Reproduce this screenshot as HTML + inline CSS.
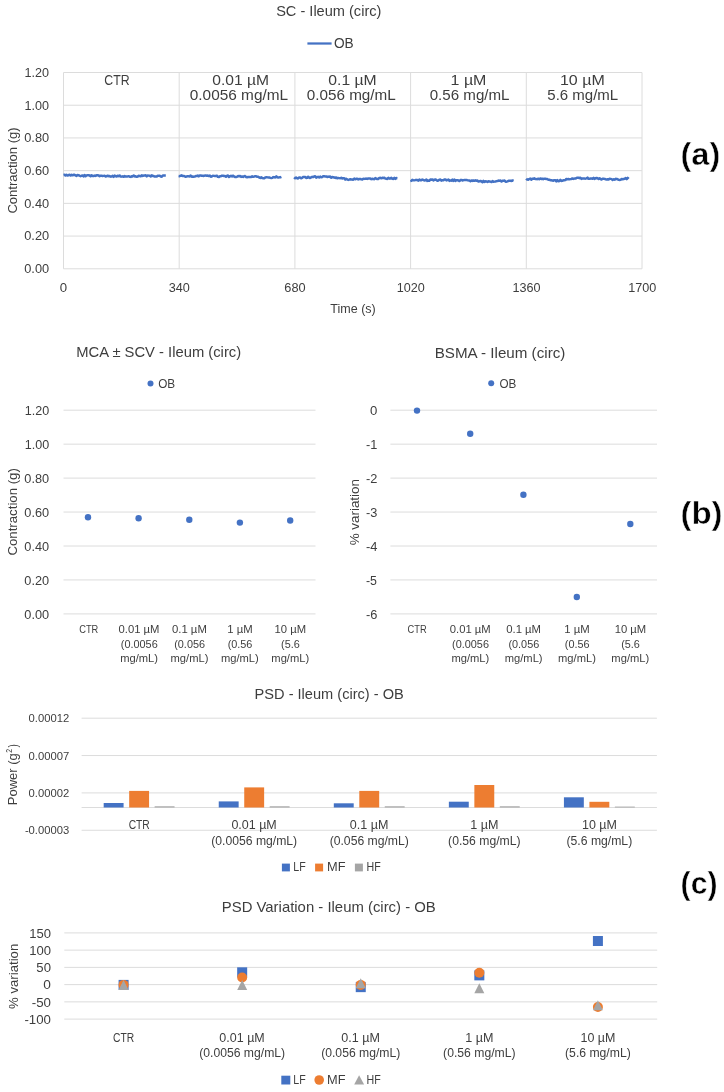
<!DOCTYPE html>
<html><head><meta charset="utf-8"><style>
html,body{margin:0;padding:0;background:#fff;}
svg{display:block;font-family:"Liberation Sans", sans-serif;filter:blur(0.35px);}
</style></head><body>
<svg width="724" height="1092" viewBox="0 0 724 1092">
<rect width="724" height="1092" fill="#fff"/>
<text x="276.14" y="16.1" font-size="15.12" fill="#3e3e3e" textLength="105.27" lengthAdjust="spacingAndGlyphs">SC - Ileum (circ)</text>
<line x1="307.4" y1="43.5" x2="331.6" y2="43.5" stroke="#4472C4" stroke-width="2.25"/>
<text x="333.95" y="48" font-size="14.93" fill="#3e3e3e" textLength="19.77" lengthAdjust="spacingAndGlyphs">OB</text>
<line x1="63.5" y1="72.5" x2="642" y2="72.5" stroke="#DCDCDC" stroke-width="1"/>
<line x1="63.5" y1="105.22" x2="642" y2="105.22" stroke="#DCDCDC" stroke-width="1"/>
<line x1="63.5" y1="137.93" x2="642" y2="137.93" stroke="#DCDCDC" stroke-width="1"/>
<line x1="63.5" y1="170.65" x2="642" y2="170.65" stroke="#DCDCDC" stroke-width="1"/>
<line x1="63.5" y1="203.37" x2="642" y2="203.37" stroke="#DCDCDC" stroke-width="1"/>
<line x1="63.5" y1="236.08" x2="642" y2="236.08" stroke="#DCDCDC" stroke-width="1"/>
<line x1="63.5" y1="268.8" x2="642" y2="268.8" stroke="#DCDCDC" stroke-width="1"/>
<line x1="63.5" y1="72.5" x2="63.5" y2="268.8" stroke="#DCDCDC" stroke-width="1"/>
<line x1="179.2" y1="72.5" x2="179.2" y2="268.8" stroke="#DCDCDC" stroke-width="1"/>
<line x1="294.9" y1="72.5" x2="294.9" y2="268.8" stroke="#DCDCDC" stroke-width="1"/>
<line x1="410.6" y1="72.5" x2="410.6" y2="268.8" stroke="#DCDCDC" stroke-width="1"/>
<line x1="526.3" y1="72.5" x2="526.3" y2="268.8" stroke="#DCDCDC" stroke-width="1"/>
<line x1="642" y1="72.5" x2="642" y2="268.8" stroke="#DCDCDC" stroke-width="1"/>
<text x="24.6" y="76.9" font-size="12.97" fill="#3e3e3e" textLength="24.54" lengthAdjust="spacingAndGlyphs">1.20</text>
<text x="24.6" y="109.62" font-size="12.97" fill="#3e3e3e" textLength="24.54" lengthAdjust="spacingAndGlyphs">1.00</text>
<text x="24.22" y="142.33" font-size="12.97" fill="#3e3e3e" textLength="24.93" lengthAdjust="spacingAndGlyphs">0.80</text>
<text x="24.22" y="175.05" font-size="12.97" fill="#3e3e3e" textLength="24.93" lengthAdjust="spacingAndGlyphs">0.60</text>
<text x="24.22" y="207.77" font-size="12.97" fill="#3e3e3e" textLength="24.93" lengthAdjust="spacingAndGlyphs">0.40</text>
<text x="24.22" y="240.48" font-size="12.97" fill="#3e3e3e" textLength="24.93" lengthAdjust="spacingAndGlyphs">0.20</text>
<text x="24.22" y="273.2" font-size="12.97" fill="#3e3e3e" textLength="24.93" lengthAdjust="spacingAndGlyphs">0.00</text>
<text x="59.82" y="292" font-size="12.97" fill="#3e3e3e" textLength="7.36" lengthAdjust="spacingAndGlyphs">0</text>
<text x="168.8" y="292" font-size="12.97" fill="#3e3e3e" textLength="21.11" lengthAdjust="spacingAndGlyphs">340</text>
<text x="284.31" y="292" font-size="12.97" fill="#3e3e3e" textLength="21.3" lengthAdjust="spacingAndGlyphs">680</text>
<text x="396.75" y="292" font-size="12.97" fill="#3e3e3e" textLength="28.07" lengthAdjust="spacingAndGlyphs">1020</text>
<text x="512.45" y="292" font-size="12.97" fill="#3e3e3e" textLength="28.07" lengthAdjust="spacingAndGlyphs">1360</text>
<text x="628.15" y="292" font-size="12.97" fill="#3e3e3e" textLength="28.07" lengthAdjust="spacingAndGlyphs">1700</text>
<text x="330.32" y="313.1" font-size="12.69" fill="#3e3e3e" textLength="45.45" lengthAdjust="spacingAndGlyphs">Time (s)</text>
<text transform="translate(16.6 212.9) rotate(-90)" x="-0.66" y="0" font-size="12.87" fill="#3e3e3e" textLength="86.17" lengthAdjust="spacingAndGlyphs">Contraction (g)</text>
<text x="104.27" y="84.6" font-size="15.49" fill="#3e3e3e" textLength="25.3" lengthAdjust="spacingAndGlyphs">CTR</text>
<text x="212.29" y="84.6" font-size="14.94" fill="#3e3e3e" textLength="56.79" lengthAdjust="spacingAndGlyphs">0.01 µM</text>
<text x="189.8" y="99.5" font-size="14.94" fill="#3e3e3e" textLength="98.31" lengthAdjust="spacingAndGlyphs">0.0056 mg/mL</text>
<text x="328.29" y="84.6" font-size="14.94" fill="#3e3e3e" textLength="48.4" lengthAdjust="spacingAndGlyphs">0.1 µM</text>
<text x="306.7" y="99.5" font-size="14.94" fill="#3e3e3e" textLength="89.1" lengthAdjust="spacingAndGlyphs">0.056 mg/mL</text>
<text x="450.58" y="84.6" font-size="14.94" fill="#3e3e3e" textLength="35.83" lengthAdjust="spacingAndGlyphs">1 µM</text>
<text x="429.71" y="99.5" font-size="14.94" fill="#3e3e3e" textLength="79.79" lengthAdjust="spacingAndGlyphs">0.56 mg/mL</text>
<text x="559.98" y="84.6" font-size="14.94" fill="#3e3e3e" textLength="44.83" lengthAdjust="spacingAndGlyphs">10 µM</text>
<text x="547.3" y="99.5" font-size="14.94" fill="#3e3e3e" textLength="70.9" lengthAdjust="spacingAndGlyphs">5.6 mg/mL</text>
<polyline points="63.5,175.04 64.5,174.79 65.51,175.56 66.51,174.71 67.51,175.42 68.51,175.18 69.52,174.74 70.52,175.43 71.52,174.74 72.53,175.35 73.53,174.82 74.53,174.87 75.54,175.38 76.54,176 77.54,174.96 78.54,175.13 79.55,175.75 80.55,176.25 81.55,175.71 82.56,175.46 83.56,176.34 84.56,174.96 85.56,176.2 86.57,175.36 87.57,175.16 88.57,175.14 89.58,175.44 90.58,176.22 91.58,175.28 92.59,175.9 93.59,176 94.59,175.62 95.59,175.89 96.6,175.18 97.6,175.19 98.6,175.43 99.61,176.16 100.61,175.8 101.61,175.64 102.61,176.07 103.62,175.88 104.62,175.67 105.62,176.43 106.63,176.3 107.63,175.64 108.63,176.15 109.64,176.09 110.64,176.63 111.64,176.43 112.64,175.78 113.65,176.84 114.65,175.56 115.65,176.03 116.66,176.55 117.66,175.66 118.66,176.18 119.66,175.52 120.67,176.48 121.67,176.64 122.67,176.37 123.68,176.84 124.68,176.02 125.68,176.58 126.69,176.42 127.69,176.38 128.69,176.18 129.69,176.74 130.7,176.88 131.7,176.16 132.7,176.43 133.71,175.51 134.71,176.46 135.71,176.36 136.71,176.87 137.72,176.59 138.72,175.77 139.72,175.91 140.73,176.32 141.73,175.34 142.73,175.98 143.74,175.53 144.74,175.43 145.74,175.34 146.74,176.4 147.75,175.44 148.75,175.62 149.75,175.84 150.76,176.56 151.76,175.37 152.76,175.92 153.76,176.07 154.77,176.58 155.77,176.48 156.77,176.55 157.78,175.67 158.78,175.87 159.78,175.79 160.79,176.58 161.79,176.69 162.79,175.48 163.79,175.51 164.8,175.6 165.8,175.6" fill="none" stroke="#4472C4" stroke-width="2.5" stroke-linejoin="round"/>
<polyline points="178.6,176.08 179.61,176.24 180.62,175.75 181.62,175.37 182.63,175.99 183.64,175.92 184.65,176.22 185.65,176.81 186.66,176.42 187.67,176.16 188.68,176.32 189.69,176.41 190.69,175.48 191.7,176.75 192.71,176.57 193.72,176.72 194.73,176.61 195.73,176.01 196.74,176.02 197.75,175.58 198.76,176.38 199.76,175.53 200.77,175.54 201.78,175.75 202.79,175.69 203.8,175.96 204.8,175.53 205.81,175.46 206.82,175.69 207.83,175.62 208.84,176.01 209.84,175.51 210.85,176.79 211.86,176.4 212.87,175.71 213.87,175.87 214.88,176.01 215.89,176.04 216.9,175.68 217.91,176.78 218.91,177 219.92,176.21 220.93,176.24 221.94,175.65 222.95,175.68 223.95,176.04 224.96,175.93 225.97,176.78 226.98,175.78 227.98,175.58 228.99,176.97 230,176.34 231.01,175.78 232.02,176.39 233.02,175.63 234.03,176.4 235.04,177.09 236.05,176.93 237.05,176.7 238.06,176.06 239.07,176.23 240.08,175.95 241.09,176.87 242.09,176.53 243.1,176.91 244.11,176.25 245.12,176.11 246.13,177 247.13,177.28 248.14,177.09 249.15,177.04 250.16,177.07 251.16,177 252.17,176.3 253.18,176.81 254.19,176.64 255.2,176.22 256.2,176.29 257.21,176.74 258.22,176.78 259.23,177.5 260.24,177.96 261.24,177.27 262.25,178.08 263.26,178.22 264.27,178.25 265.27,177.43 266.28,177.29 267.29,177.37 268.3,177.39 269.31,177.41 270.31,177.87 271.32,178.11 272.33,177.84 273.34,177.12 274.35,177.23 275.35,177.43 276.36,176.35 277.37,177.2 278.38,177.56 279.38,177.35 280.39,177.29 281.4,176.87" fill="none" stroke="#4472C4" stroke-width="2.5" stroke-linejoin="round"/>
<polyline points="294.1,177.42 295.1,178.29 296.11,177.56 297.11,178.22 298.11,178.43 299.11,177.52 300.12,177.48 301.12,178.25 302.12,177.88 303.13,177 304.13,176.89 305.13,176.88 306.13,177.97 307.14,177.77 308.14,176.74 309.14,177.71 310.15,177.9 311.15,177.37 312.15,176.86 313.16,177.12 314.16,176.44 315.16,176.22 316.16,177.61 317.17,177.09 318.17,176.86 319.17,177.42 320.18,176.63 321.18,177.24 322.18,177.13 323.18,176.18 324.19,176.3 325.19,176.43 326.19,176.42 327.2,177 328.2,176.57 329.2,176.88 330.2,176.51 331.21,177.74 332.21,176.97 333.21,177.19 334.22,177.45 335.22,177.99 336.22,177.42 337.23,178.35 338.23,177.9 339.23,178.12 340.23,178.29 341.24,177.71 342.24,178.52 343.24,178.31 344.25,178.22 345.25,179.59 346.25,178.83 347.25,179.46 348.26,179.91 349.26,179.61 350.26,179.21 351.27,179.44 352.27,179.44 353.27,179.73 354.27,178.66 355.28,179.29 356.28,178.77 357.28,178.76 358.29,179.45 359.29,178.99 360.29,179.02 361.3,179.27 362.3,179.44 363.3,178.68 364.3,178.88 365.31,178.67 366.31,178.62 367.31,178.88 368.32,178.5 369.32,178.61 370.32,178.52 371.32,179.2 372.33,178.82 373.33,179.08 374.33,179.16 375.34,178.12 376.34,178.56 377.34,179.12 378.34,178.96 379.35,177.89 380.35,177.85 381.35,178.32 382.36,177.75 383.36,177.99 384.36,177.73 385.37,178.61 386.37,178.77 387.37,178.92 388.37,177.8 389.38,178.63 390.38,178.53 391.38,177.74 392.39,178.84 393.39,178.95 394.39,177.82 395.39,178.9 396.4,178.06 397.4,178.18" fill="none" stroke="#4472C4" stroke-width="2.5" stroke-linejoin="round"/>
<polyline points="410.3,181.13 411.3,180.89 412.31,179.87 413.31,180.26 414.31,180.37 415.31,180.09 416.32,179.87 417.32,180.04 418.32,180.63 419.33,179.56 420.33,180.35 421.33,180.17 422.33,179.52 423.34,179.98 424.34,180.4 425.34,180.22 426.35,179.54 427.35,180.91 428.35,180.6 429.36,180.86 430.36,179.55 431.36,179.78 432.36,179.42 433.37,180.52 434.37,179.74 435.37,179.52 436.38,179.95 437.38,180.67 438.38,180.52 439.38,179.66 440.39,179.49 441.39,180.63 442.39,180.13 443.4,180.35 444.4,179.46 445.4,179.43 446.4,180.4 447.41,180.03 448.41,179.52 449.41,180.85 450.42,180.41 451.42,180.69 452.42,179.63 453.43,180.82 454.43,179.66 455.43,180.87 456.43,180.28 457.44,180.13 458.44,180.48 459.44,181.06 460.45,180.1 461.45,179.91 462.45,180.53 463.45,180.12 464.46,179.95 465.46,180.05 466.46,179.91 467.47,180.17 468.47,180.4 469.47,180.44 470.47,181.18 471.48,180.54 472.48,180.91 473.48,180.49 474.49,180.8 475.49,180.36 476.49,180.77 477.5,180.48 478.5,181.61 479.5,181.4 480.5,180.91 481.51,181.4 482.51,182.15 483.51,180.89 484.52,181.95 485.52,181.35 486.52,181.43 487.52,181.92 488.53,181.24 489.53,181.4 490.53,181.65 491.54,182.08 492.54,181.1 493.54,181.82 494.54,181.62 495.55,181.5 496.55,181.13 497.55,181.03 498.56,180.57 499.56,180.67 500.56,180.57 501.57,181.56 502.57,180.81 503.57,180.66 504.57,180.52 505.58,181.64 506.58,181.67 507.58,181.35 508.59,180.75 509.59,180.68 510.59,180.74 511.59,180.97 512.6,180.5 513.6,180.92" fill="none" stroke="#4472C4" stroke-width="2.5" stroke-linejoin="round"/>
<polyline points="526.2,178.54 527.2,179.62 528.21,179.66 529.21,179.04 530.22,178.61 531.22,179.72 532.23,178.76 533.23,178.86 534.24,178.35 535.24,178.94 536.25,179.11 537.25,179.17 538.26,178.75 539.26,179.23 540.27,178.5 541.27,178.91 542.28,178.68 543.28,179.17 544.29,178.65 545.29,178.65 546.3,179.1 547.3,179.07 548.31,179.72 549.31,179.76 550.32,180.22 551.32,180.2 552.33,180.41 553.33,180.78 554.34,180.17 555.34,180.19 556.35,181.3 557.35,180.17 558.36,181.16 559.36,181.04 560.37,179.95 561.37,180.94 562.38,180.83 563.38,180.24 564.39,180.2 565.39,180.12 566.4,178.92 567.4,179.3 568.41,179.07 569.41,179.37 570.42,179.13 571.42,178.97 572.43,178.43 573.43,178.9 574.44,178.59 575.44,178.61 576.45,177.92 577.45,177.63 578.45,177.79 579.46,178.14 580.46,177.76 581.47,178.86 582.47,178.45 583.48,178.56 584.48,178.57 585.49,178.66 586.49,178.38 587.5,177.65 588.5,178.87 589.51,178.82 590.51,178.48 591.52,178.55 592.52,178.76 593.53,177.9 594.53,178.93 595.54,178.23 596.54,177.99 597.55,178.3 598.55,179.03 599.56,178.27 600.56,179.09 601.57,179.47 602.57,178.78 603.58,178.66 604.58,178.89 605.59,179.27 606.59,179.47 607.6,179.33 608.6,179.45 609.61,178.68 610.61,178.86 611.62,179.1 612.62,179.91 613.63,179.31 614.63,179.7 615.64,178.87 616.64,178.94 617.65,179.25 618.65,179.86 619.66,179.89 620.66,179.84 621.67,179.09 622.67,179.25 623.68,179 624.68,178.84 625.69,178.14 626.69,179.13 627.7,177.92 628.7,178.92" fill="none" stroke="#4472C4" stroke-width="2.5" stroke-linejoin="round"/>
<text x="680.47" y="165.4" font-size="32" fill="#000" textLength="39.96" lengthAdjust="spacingAndGlyphs" font-weight="bold" stroke="#fff" stroke-width="0.5">(a)</text>
<text x="76.29" y="357.3" font-size="15.17" fill="#3e3e3e" textLength="164.82" lengthAdjust="spacingAndGlyphs">MCA ± SCV - Ileum (circ)</text>
<circle cx="150.5" cy="383.6" r="3" fill="#4472C4"/>
<text x="158.24" y="387.6" font-size="12.41" fill="#3e3e3e" textLength="16.98" lengthAdjust="spacingAndGlyphs">OB</text>
<text x="434.66" y="357.5" font-size="15.17" fill="#3e3e3e" textLength="130.67" lengthAdjust="spacingAndGlyphs">BSMA - Ileum (circ)</text>
<circle cx="491.2" cy="383.2" r="3" fill="#4472C4"/>
<text x="499.45" y="387.6" font-size="12.41" fill="#3e3e3e" textLength="16.87" lengthAdjust="spacingAndGlyphs">OB</text>
<line x1="63.5" y1="410.2" x2="315.5" y2="410.2" stroke="#DCDCDC" stroke-width="1"/>
<line x1="390.4" y1="410.2" x2="657" y2="410.2" stroke="#DCDCDC" stroke-width="1"/>
<line x1="63.5" y1="444.15" x2="315.5" y2="444.15" stroke="#DCDCDC" stroke-width="1"/>
<line x1="390.4" y1="444.15" x2="657" y2="444.15" stroke="#DCDCDC" stroke-width="1"/>
<line x1="63.5" y1="478.1" x2="315.5" y2="478.1" stroke="#DCDCDC" stroke-width="1"/>
<line x1="390.4" y1="478.1" x2="657" y2="478.1" stroke="#DCDCDC" stroke-width="1"/>
<line x1="63.5" y1="512.05" x2="315.5" y2="512.05" stroke="#DCDCDC" stroke-width="1"/>
<line x1="390.4" y1="512.05" x2="657" y2="512.05" stroke="#DCDCDC" stroke-width="1"/>
<line x1="63.5" y1="546" x2="315.5" y2="546" stroke="#DCDCDC" stroke-width="1"/>
<line x1="390.4" y1="546" x2="657" y2="546" stroke="#DCDCDC" stroke-width="1"/>
<line x1="63.5" y1="579.95" x2="315.5" y2="579.95" stroke="#DCDCDC" stroke-width="1"/>
<line x1="390.4" y1="579.95" x2="657" y2="579.95" stroke="#DCDCDC" stroke-width="1"/>
<line x1="63.5" y1="613.9" x2="315.5" y2="613.9" stroke="#DCDCDC" stroke-width="1"/>
<line x1="390.4" y1="613.9" x2="657" y2="613.9" stroke="#DCDCDC" stroke-width="1"/>
<text x="24.68" y="414.8" font-size="12.92" fill="#3e3e3e" textLength="24.45" lengthAdjust="spacingAndGlyphs">1.20</text>
<text x="370.12" y="414.8" font-size="12.92" fill="#3e3e3e" textLength="7.33" lengthAdjust="spacingAndGlyphs">0</text>
<text x="24.68" y="448.75" font-size="12.92" fill="#3e3e3e" textLength="24.45" lengthAdjust="spacingAndGlyphs">1.00</text>
<text x="365.98" y="448.75" font-size="12.92" fill="#3e3e3e" textLength="11.32" lengthAdjust="spacingAndGlyphs">-1</text>
<text x="24.3" y="482.7" font-size="12.92" fill="#3e3e3e" textLength="24.84" lengthAdjust="spacingAndGlyphs">0.80</text>
<text x="365.98" y="482.7" font-size="12.92" fill="#3e3e3e" textLength="11.38" lengthAdjust="spacingAndGlyphs">-2</text>
<text x="24.3" y="516.65" font-size="12.92" fill="#3e3e3e" textLength="24.84" lengthAdjust="spacingAndGlyphs">0.60</text>
<text x="365.98" y="516.65" font-size="12.92" fill="#3e3e3e" textLength="11.35" lengthAdjust="spacingAndGlyphs">-3</text>
<text x="24.3" y="550.6" font-size="12.92" fill="#3e3e3e" textLength="24.84" lengthAdjust="spacingAndGlyphs">0.40</text>
<text x="365.97" y="550.6" font-size="12.92" fill="#3e3e3e" textLength="11.47" lengthAdjust="spacingAndGlyphs">-4</text>
<text x="24.3" y="584.55" font-size="12.92" fill="#3e3e3e" textLength="24.84" lengthAdjust="spacingAndGlyphs">0.20</text>
<text x="366" y="584.55" font-size="12.92" fill="#3e3e3e" textLength="11" lengthAdjust="spacingAndGlyphs">-5</text>
<text x="24.3" y="618.5" font-size="12.92" fill="#3e3e3e" textLength="24.84" lengthAdjust="spacingAndGlyphs">0.00</text>
<text x="365.98" y="618.5" font-size="12.92" fill="#3e3e3e" textLength="11.41" lengthAdjust="spacingAndGlyphs">-6</text>
<text transform="translate(16.6 554.9) rotate(-90)" x="-0.67" y="0" font-size="12.91" fill="#3e3e3e" textLength="87.39" lengthAdjust="spacingAndGlyphs">Contraction (g)</text>
<text transform="translate(358.9 544.8) rotate(-90)" x="-0.48" y="0" font-size="13" fill="#3e3e3e" textLength="66.14" lengthAdjust="spacingAndGlyphs">% variation</text>
<circle cx="88" cy="517.3" r="3.2" fill="#4472C4"/>
<circle cx="138.6" cy="518.3" r="3.2" fill="#4472C4"/>
<circle cx="189.3" cy="519.8" r="3.2" fill="#4472C4"/>
<circle cx="239.9" cy="522.6" r="3.2" fill="#4472C4"/>
<circle cx="290.2" cy="520.5" r="3.2" fill="#4472C4"/>
<circle cx="417" cy="410.6" r="3.2" fill="#4472C4"/>
<circle cx="470.2" cy="433.8" r="3.2" fill="#4472C4"/>
<circle cx="523.4" cy="494.8" r="3.2" fill="#4472C4"/>
<circle cx="576.8" cy="597" r="3.2" fill="#4472C4"/>
<circle cx="630.3" cy="524" r="3.2" fill="#4472C4"/>
<text x="79.24" y="632.9" font-size="11.2" fill="#3e3e3e" textLength="19.1" lengthAdjust="spacingAndGlyphs">CTR</text>
<text x="407.6" y="632.9" font-size="11.2" fill="#3e3e3e" textLength="19.1" lengthAdjust="spacingAndGlyphs">CTR</text>
<text x="118.55" y="632.9" font-size="10.8" fill="#3e3e3e" textLength="40.92" lengthAdjust="spacingAndGlyphs">0.01 µM</text>
<text x="449.83" y="632.9" font-size="10.8" fill="#3e3e3e" textLength="40.92" lengthAdjust="spacingAndGlyphs">0.01 µM</text>
<text x="120.76" y="647.55" font-size="11.2" fill="#3e3e3e" textLength="36.94" lengthAdjust="spacingAndGlyphs">(0.0056</text>
<text x="452.04" y="647.55" font-size="11.2" fill="#3e3e3e" textLength="36.94" lengthAdjust="spacingAndGlyphs">(0.0056</text>
<text x="120.15" y="662.2" font-size="10.8" fill="#3e3e3e" textLength="37.83" lengthAdjust="spacingAndGlyphs">mg/mL)</text>
<text x="451.43" y="662.2" font-size="10.8" fill="#3e3e3e" textLength="37.83" lengthAdjust="spacingAndGlyphs">mg/mL)</text>
<text x="171.99" y="632.9" font-size="10.8" fill="#3e3e3e" textLength="34.85" lengthAdjust="spacingAndGlyphs">0.1 µM</text>
<text x="506.19" y="632.9" font-size="10.8" fill="#3e3e3e" textLength="34.85" lengthAdjust="spacingAndGlyphs">0.1 µM</text>
<text x="174.21" y="647.55" font-size="11.2" fill="#3e3e3e" textLength="30.85" lengthAdjust="spacingAndGlyphs">(0.056</text>
<text x="508.41" y="647.55" font-size="11.2" fill="#3e3e3e" textLength="30.85" lengthAdjust="spacingAndGlyphs">(0.056</text>
<text x="170.55" y="662.2" font-size="10.8" fill="#3e3e3e" textLength="37.83" lengthAdjust="spacingAndGlyphs">mg/mL)</text>
<text x="504.75" y="662.2" font-size="10.8" fill="#3e3e3e" textLength="37.83" lengthAdjust="spacingAndGlyphs">mg/mL)</text>
<text x="227.25" y="632.9" font-size="10.8" fill="#3e3e3e" textLength="25.43" lengthAdjust="spacingAndGlyphs">1 µM</text>
<text x="564.37" y="632.9" font-size="10.8" fill="#3e3e3e" textLength="25.43" lengthAdjust="spacingAndGlyphs">1 µM</text>
<text x="227.65" y="647.55" font-size="11.2" fill="#3e3e3e" textLength="24.77" lengthAdjust="spacingAndGlyphs">(0.56</text>
<text x="564.77" y="647.55" font-size="11.2" fill="#3e3e3e" textLength="24.77" lengthAdjust="spacingAndGlyphs">(0.56</text>
<text x="220.95" y="662.2" font-size="10.8" fill="#3e3e3e" textLength="37.83" lengthAdjust="spacingAndGlyphs">mg/mL)</text>
<text x="558.07" y="662.2" font-size="10.8" fill="#3e3e3e" textLength="37.83" lengthAdjust="spacingAndGlyphs">mg/mL)</text>
<text x="274.61" y="632.9" font-size="10.8" fill="#3e3e3e" textLength="31.5" lengthAdjust="spacingAndGlyphs">10 µM</text>
<text x="614.65" y="632.9" font-size="10.8" fill="#3e3e3e" textLength="31.5" lengthAdjust="spacingAndGlyphs">10 µM</text>
<text x="281.09" y="647.55" font-size="11.2" fill="#3e3e3e" textLength="18.69" lengthAdjust="spacingAndGlyphs">(5.6</text>
<text x="621.13" y="647.55" font-size="11.2" fill="#3e3e3e" textLength="18.69" lengthAdjust="spacingAndGlyphs">(5.6</text>
<text x="271.35" y="662.2" font-size="10.8" fill="#3e3e3e" textLength="37.83" lengthAdjust="spacingAndGlyphs">mg/mL)</text>
<text x="611.39" y="662.2" font-size="10.8" fill="#3e3e3e" textLength="37.83" lengthAdjust="spacingAndGlyphs">mg/mL)</text>
<text x="680.45" y="523.8" font-size="32" fill="#000" textLength="42.19" lengthAdjust="spacingAndGlyphs" font-weight="bold" stroke="#fff" stroke-width="0.5">(b)</text>
<text x="254.6" y="699.2" font-size="15.12" fill="#3e3e3e" textLength="149.17" lengthAdjust="spacingAndGlyphs">PSD - Ileum (circ) - OB</text>
<line x1="81.6" y1="718.2" x2="656.9" y2="718.2" stroke="#DCDCDC" stroke-width="1"/>
<line x1="81.6" y1="755.55" x2="656.9" y2="755.55" stroke="#DCDCDC" stroke-width="1"/>
<line x1="81.6" y1="792.9" x2="656.9" y2="792.9" stroke="#DCDCDC" stroke-width="1"/>
<line x1="81.6" y1="830.25" x2="656.9" y2="830.25" stroke="#DCDCDC" stroke-width="1"/>
<line x1="81.6" y1="807.5" x2="656.9" y2="807.5" stroke="#DCDCDC" stroke-width="1"/>
<text x="28.57" y="722.2" font-size="11.48" fill="#3e3e3e" textLength="40.67" lengthAdjust="spacingAndGlyphs">0.00012</text>
<text x="28.57" y="759.55" font-size="11.48" fill="#3e3e3e" textLength="40.8" lengthAdjust="spacingAndGlyphs">0.00007</text>
<text x="28.57" y="796.9" font-size="11.48" fill="#3e3e3e" textLength="40.67" lengthAdjust="spacingAndGlyphs">0.00002</text>
<text x="24.88" y="834.25" font-size="11.48" fill="#3e3e3e" textLength="44.35" lengthAdjust="spacingAndGlyphs">-0.00003</text>
<text transform="translate(17 804.1) rotate(-90)" x="-1.06" y="0" font-size="13.05" fill="#3e3e3e" textLength="51.8" lengthAdjust="spacingAndGlyphs">Power (g</text>
<text transform="translate(12.3 752.4) rotate(-90)" x="-0.35" y="0" font-size="8.4" fill="#3e3e3e" textLength="3.91" lengthAdjust="spacingAndGlyphs">2</text>
<text transform="translate(17 747.4) rotate(-90)" x="-0.06" y="0" font-size="13.05" fill="#3e3e3e" textLength="3.39" lengthAdjust="spacingAndGlyphs">)</text>
<rect x="103.68" y="803" width="19.9" height="4.5" fill="#4472C4"/>
<rect x="129.18" y="790.9" width="19.9" height="16.6" fill="#ED7D31"/>
<rect x="154.63" y="806.3" width="19.9" height="1.2" fill="#A5A5A5"/>
<rect x="218.74" y="801.4" width="19.9" height="6.1" fill="#4472C4"/>
<rect x="244.24" y="787.4" width="19.9" height="20.1" fill="#ED7D31"/>
<rect x="269.69" y="806.3" width="19.9" height="1.2" fill="#A5A5A5"/>
<rect x="333.8" y="803.3" width="19.9" height="4.2" fill="#4472C4"/>
<rect x="359.3" y="790.9" width="19.9" height="16.6" fill="#ED7D31"/>
<rect x="384.75" y="806.3" width="19.9" height="1.2" fill="#A5A5A5"/>
<rect x="448.86" y="801.7" width="19.9" height="5.8" fill="#4472C4"/>
<rect x="474.36" y="785" width="19.9" height="22.5" fill="#ED7D31"/>
<rect x="499.81" y="806.3" width="19.9" height="1.2" fill="#A5A5A5"/>
<rect x="563.92" y="797.3" width="19.9" height="10.2" fill="#4472C4"/>
<rect x="589.42" y="801.8" width="19.9" height="5.7" fill="#ED7D31"/>
<rect x="614.87" y="806.6" width="19.9" height="0.9" fill="#A5A5A5"/>
<text x="128.65" y="829" font-size="12.41" fill="#3e3e3e" textLength="21.16" lengthAdjust="spacingAndGlyphs">CTR</text>
<text x="231.41" y="829" font-size="11.97" fill="#3e3e3e" textLength="45.35" lengthAdjust="spacingAndGlyphs">0.01 µM</text>
<text x="211.22" y="844.5" font-size="11.97" fill="#3e3e3e" textLength="85.93" lengthAdjust="spacingAndGlyphs">(0.0056 mg/mL)</text>
<text x="349.84" y="829" font-size="11.97" fill="#3e3e3e" textLength="38.62" lengthAdjust="spacingAndGlyphs">0.1 µM</text>
<text x="329.65" y="844.5" font-size="11.97" fill="#3e3e3e" textLength="79.19" lengthAdjust="spacingAndGlyphs">(0.056 mg/mL)</text>
<text x="470.29" y="829" font-size="11.97" fill="#3e3e3e" textLength="28.19" lengthAdjust="spacingAndGlyphs">1 µM</text>
<text x="448.08" y="844.5" font-size="11.97" fill="#3e3e3e" textLength="72.45" lengthAdjust="spacingAndGlyphs">(0.56 mg/mL)</text>
<text x="581.98" y="829" font-size="11.97" fill="#3e3e3e" textLength="34.91" lengthAdjust="spacingAndGlyphs">10 µM</text>
<text x="566.51" y="844.5" font-size="11.97" fill="#3e3e3e" textLength="65.71" lengthAdjust="spacingAndGlyphs">(5.6 mg/mL)</text>
<rect x="281.9" y="863.6" width="8" height="7.8" fill="#4472C4"/>
<text x="293.23" y="871.2" font-size="12.5" fill="#3e3e3e" textLength="12.4" lengthAdjust="spacingAndGlyphs">LF</text>
<rect x="315.1" y="863.6" width="8" height="7.8" fill="#ED7D31"/>
<text x="327.05" y="871.2" font-size="12.5" fill="#3e3e3e" textLength="18.46" lengthAdjust="spacingAndGlyphs">MF</text>
<rect x="354.9" y="863.6" width="8" height="7.8" fill="#A5A5A5"/>
<text x="366.53" y="871.2" font-size="12.5" fill="#3e3e3e" textLength="14.2" lengthAdjust="spacingAndGlyphs">HF</text>
<text x="680.59" y="894.4" font-size="32" fill="#000" textLength="37.02" lengthAdjust="spacingAndGlyphs" font-weight="bold" stroke="#fff" stroke-width="0.5">(c)</text>
<text x="221.78" y="912.3" font-size="15.12" fill="#3e3e3e" textLength="214" lengthAdjust="spacingAndGlyphs">PSD Variation - Ileum (circ) - OB</text>
<line x1="64.3" y1="932.9" x2="657.2" y2="932.9" stroke="#DCDCDC" stroke-width="1"/>
<line x1="64.3" y1="950.14" x2="657.2" y2="950.14" stroke="#DCDCDC" stroke-width="1"/>
<line x1="64.3" y1="967.38" x2="657.2" y2="967.38" stroke="#DCDCDC" stroke-width="1"/>
<line x1="64.3" y1="984.62" x2="657.2" y2="984.62" stroke="#DCDCDC" stroke-width="1"/>
<line x1="64.3" y1="1001.86" x2="657.2" y2="1001.86" stroke="#DCDCDC" stroke-width="1"/>
<line x1="64.3" y1="1019.1" x2="657.2" y2="1019.1" stroke="#DCDCDC" stroke-width="1"/>
<text x="29.15" y="937.7" font-size="13.44" fill="#3e3e3e" textLength="21.78" lengthAdjust="spacingAndGlyphs">150</text>
<text x="29.15" y="954.94" font-size="13.44" fill="#3e3e3e" textLength="21.78" lengthAdjust="spacingAndGlyphs">100</text>
<text x="36.33" y="972.18" font-size="13.44" fill="#3e3e3e" textLength="14.61" lengthAdjust="spacingAndGlyphs">50</text>
<text x="43.34" y="989.42" font-size="13.44" fill="#3e3e3e" textLength="7.62" lengthAdjust="spacingAndGlyphs">0</text>
<text x="31.73" y="1006.66" font-size="13.44" fill="#3e3e3e" textLength="19.22" lengthAdjust="spacingAndGlyphs">-50</text>
<text x="24.43" y="1023.9" font-size="13.44" fill="#3e3e3e" textLength="26.51" lengthAdjust="spacingAndGlyphs">-100</text>
<text transform="translate(17.6 1008.5) rotate(-90)" x="-0.47" y="0" font-size="12.91" fill="#3e3e3e" textLength="65.23" lengthAdjust="spacingAndGlyphs">% variation</text>
<rect x="118.59" y="979.9" width="10" height="10" fill="#4472C4"/>
<circle cx="123.59" cy="984.9" r="5" fill="#ED7D31"/>
<polygon points="123.59,979.9 128.59,989.9 118.59,989.9" fill="#A5A5A5"/>
<rect x="237.17" y="967.31" width="10" height="10" fill="#4472C4"/>
<circle cx="242.17" cy="977.42" r="5" fill="#ED7D31"/>
<polygon points="242.17,979.9 247.17,989.9 237.17,989.9" fill="#A5A5A5"/>
<rect x="355.75" y="982.14" width="10" height="10" fill="#4472C4"/>
<circle cx="360.75" cy="984.9" r="5" fill="#ED7D31"/>
<polygon points="360.75,978.18 365.75,988.18 355.75,988.18" fill="#A5A5A5"/>
<rect x="474.33" y="970.38" width="10" height="10" fill="#4472C4"/>
<circle cx="479.33" cy="972.83" r="5" fill="#ED7D31"/>
<polygon points="479.33,983.18 484.33,993.18 474.33,993.18" fill="#A5A5A5"/>
<rect x="592.91" y="936.01" width="10" height="10" fill="#4472C4"/>
<circle cx="597.91" cy="1006.97" r="5" fill="#ED7D31"/>
<polygon points="597.91,1000.24 602.91,1010.24 592.91,1010.24" fill="#A5A5A5"/>
<text x="113.11" y="1042" font-size="12.41" fill="#3e3e3e" textLength="21.16" lengthAdjust="spacingAndGlyphs">CTR</text>
<text x="219.39" y="1042" font-size="11.97" fill="#3e3e3e" textLength="45.35" lengthAdjust="spacingAndGlyphs">0.01 µM</text>
<text x="199.2" y="1057" font-size="11.97" fill="#3e3e3e" textLength="85.93" lengthAdjust="spacingAndGlyphs">(0.0056 mg/mL)</text>
<text x="341.34" y="1042" font-size="11.97" fill="#3e3e3e" textLength="38.62" lengthAdjust="spacingAndGlyphs">0.1 µM</text>
<text x="321.15" y="1057" font-size="11.97" fill="#3e3e3e" textLength="79.19" lengthAdjust="spacingAndGlyphs">(0.056 mg/mL)</text>
<text x="465.31" y="1042" font-size="11.97" fill="#3e3e3e" textLength="28.19" lengthAdjust="spacingAndGlyphs">1 µM</text>
<text x="443.1" y="1057" font-size="11.97" fill="#3e3e3e" textLength="72.45" lengthAdjust="spacingAndGlyphs">(0.56 mg/mL)</text>
<text x="580.52" y="1042" font-size="11.97" fill="#3e3e3e" textLength="34.91" lengthAdjust="spacingAndGlyphs">10 µM</text>
<text x="565.05" y="1057" font-size="11.97" fill="#3e3e3e" textLength="65.71" lengthAdjust="spacingAndGlyphs">(5.6 mg/mL)</text>
<rect x="281.3" y="1075.7" width="9" height="8.8" fill="#4472C4"/>
<text x="293.23" y="1084.4" font-size="12.5" fill="#3e3e3e" textLength="12.4" lengthAdjust="spacingAndGlyphs">LF</text>
<circle cx="319.2" cy="1080" r="4.8" fill="#ED7D31"/>
<text x="327.05" y="1084.4" font-size="12.5" fill="#3e3e3e" textLength="18.46" lengthAdjust="spacingAndGlyphs">MF</text>
<polygon points="359.1,1075.2 364.1,1084.5 354.2,1084.5" fill="#A5A5A5"/>
<text x="366.53" y="1084.4" font-size="12.5" fill="#3e3e3e" textLength="14.2" lengthAdjust="spacingAndGlyphs">HF</text>
</svg>
</body></html>
